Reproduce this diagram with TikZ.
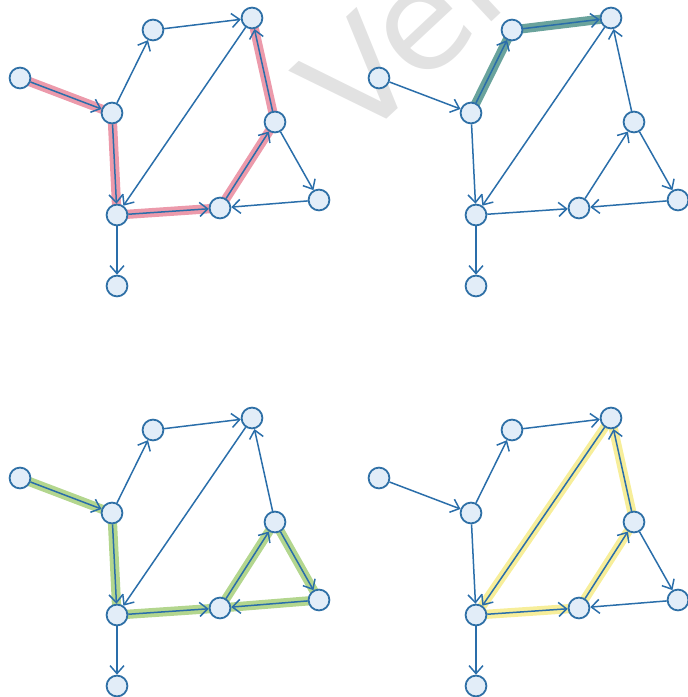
\documentclass[tikz,border=0pt]{standalone}
\usepackage{fontspec}
\usetikzlibrary{arrows.meta,backgrounds}
\newfontfamily\wmfont{DejaVu Sans}
\definecolor{edgeblue}{HTML}{2A6EAA}
\definecolor{ringblue}{HTML}{2F70A6}
\definecolor{dotfill}{HTML}{E2EDF8}
\definecolor{hlpink}{HTML}{EC9AAB}
\definecolor{hlteal}{HTML}{6AA39C}
\definecolor{hlgreen}{HTML}{B3D68E}
\definecolor{hlyellow}{HTML}{F7EE9A}
\definecolor{wmgray}{HTML}{E2E2E2}

\begin{document}
\begin{tikzpicture}[x=0.5pt,y=-0.5pt,
   vx/.style={circle,draw=ringblue,fill=dotfill,line width=0.9pt,minimum size=10.4pt,inner sep=0pt},
   ed/.style={draw=edgeblue,line width=0.75pt,-{Straight Barb[length=4pt,width=7pt]}},
   hl/.style={line width=4.6pt,line cap=round,line join=round}]
  \useasboundingbox (0,0) rectangle (688,697);
  \begin{scope}[on background layer]
    \clip (0,0) rectangle (688,697);
    \node[rotate=43,anchor=base west,inner sep=0pt,text=wmgray,font=\wmfont\fontsize{70}{70}\selectfont] (wm) at (357,147) {Ver};
  \end{scope}
  \foreach \p/\dx/\dy/\hc/\hp in {1/0/0/hlpink/{a/b,b/h,h/g,g/e,e/d},
      2/359/0/hlteal/{b/c,c/d},
      3/0/400/hlgreen/{a/b,b/h,h/g,g/e,e/f,f/g},
      4/359/400/hlyellow/{d/h,h/g,g/e,e/d}}{
    \begin{scope}[shift={(\dx,\dy)}]
      \foreach \n/\x/\y in {a/20/78,b/112/113,c/153/30,d/252/18,e/275/122,
                            f/319/200,g/220/208,h/117/215,i/117/286}
        \node[vx] (\n\p) at (\x,\y) {};
    \end{scope}
    \foreach \u/\v in {a/b,b/c,c/d,d/h,b/h,h/g,g/e,e/d,e/f,f/g,h/i}
      \draw[ed] (\u\p) -- (\v\p);
    \begin{scope}[on background layer]
      \foreach \u/\v in \hp
        \draw[hl,draw=\hc] (\u\p.center) -- (\v\p.center);
    \end{scope}
  }
\end{tikzpicture}
\end{document}
